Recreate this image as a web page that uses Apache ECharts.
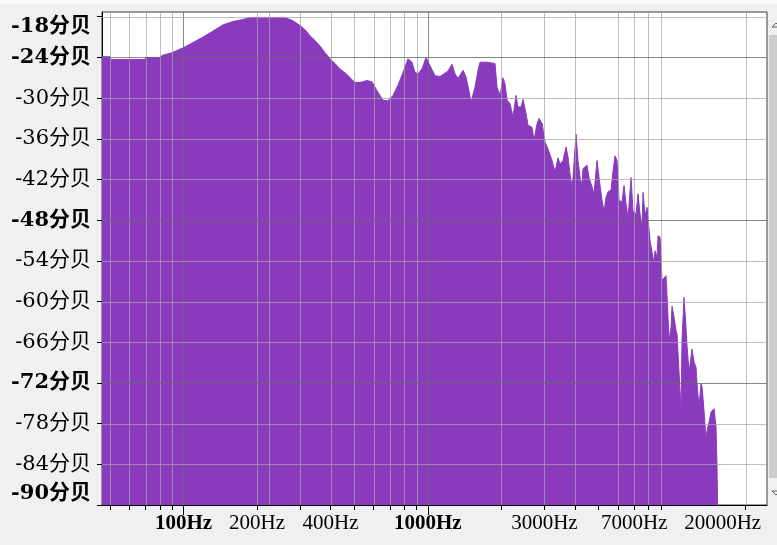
<!DOCTYPE html>
<html>
<head>
<meta charset="utf-8">
<script src="https://cdn.jsdelivr.net/npm/echarts@6/dist/echarts.min.js"></script>
<style>
html,body{margin:0;padding:0;background:#f0f0f0;}
#c{width:777px;height:545px;}
</style>
</head>
<body>
<div id="c"></div>
<script>
// Frequency (Hz) of each spectrum point
const freqHz = [
  46.4, 50.0, 50.5, 69.6, 70.2, 80.1, 81.7, 89.7, 95.0, 99.5,
  109.4, 120.2, 132.1, 145.1, 159.4, 175.2, 187.1, 199.9, 260.3, 267.7,
  280.7, 299.9, 314.3, 329.4, 345.4, 362.0, 379.5, 397.8, 417.0, 437.1,
  467.0, 480.3, 503.5, 527.9, 563.7, 591.0, 619.6, 655.6, 687.2, 720.3,
  755.1, 791.6, 829.7, 861.5, 886.3, 911.7, 946.9, 983.1, 1011, 1070,
  1122, 1210, 1256, 1292, 1329, 1393, 1434, 1474, 1502, 1560,
  1605, 1636, 1747, 1884, 1920, 1975, 2031, 2070, 2110, 2170,
  2232, 2296, 2340, 2407, 2453, 2524, 2572, 2670, 2721, 2799,
  2852, 2934, 3019, 3105, 3224, 3317, 3412, 3476, 3576, 3679,
  3749, 3820, 3893, 3930, 4042, 4119, 4198, 4278, 4318, 4484,
  4569, 4700, 4789, 4927, 5021, 5165, 5263, 5363, 5465, 5622,
  5729, 5839, 5949, 6062, 6236, 6355, 6476, 6599, 6789, 6917,
  7115, 7251, 7389, 7530, 7601, 7746, 7894, 8121, 8275, 8432,
  8511, 8673, 8756, 8923, 9093, 9264, 9441, 9530, 9712, 9897,
  9991, 10181, 10375, 10474, 10673, 10874, 10977, 11186, 11399, 11508,
  11727, 11950, 12063, 12292, 12527, 12644, 12885, 13130, 13255, 13508,
  13766, 13897, 14158, 14428, 14566, 14843, 15124, 15268, 15413, 15420
];
// Level (dB) at each frequency
const levelDb = [
  -23.9, -23.9, -24.3, -24.3, -24.0, -24.0, -23.7, -23.3, -22.9, -22.6,
  -21.8, -21.0, -20.1, -19.2, -18.7, -18.4, -18.1, -18.1, -18.1, -18.3,
  -18.6, -19.3, -19.9, -20.8, -21.5, -22.3, -23.3, -24.2, -24.9, -25.7,
  -26.5, -27.0, -27.7, -27.7, -27.4, -27.6, -28.9, -30.3, -30.4, -29.6,
  -28.1, -26.2, -24.2, -24.7, -26.2, -26.4, -25.7, -24.0, -24.9, -26.7,
  -26.8, -26.0, -25.0, -26.4, -27.1, -25.9, -26.9, -28.9, -30.6, -28.4,
  -25.9, -24.7, -24.7, -24.9, -28.4, -29.6, -27.0, -27.9, -30.3, -30.8,
  -32.8, -29.6, -31.3, -31.3, -30.2, -32.3, -34.0, -34.3, -36.2, -33.8,
  -33.0, -33.7, -36.5, -37.5, -39.2, -40.9, -38.8, -39.7, -39.2, -37.2,
  -38.7, -41.2, -43.1, -41.7, -35.3, -39.2, -41.7, -42.9, -40.4, -39.9,
  -41.7, -43.1, -44.1, -39.2, -41.7, -45.1, -46.7, -44.7, -43.8, -43.6,
  -40.7, -38.5, -39.2, -45.1, -45.3, -42.9, -45.6, -47.6, -41.7, -46.6,
  -47.1, -44.1, -47.1, -49.0, -43.9, -47.3, -46.1, -51.0, -51.0, -54.4,
  -52.5, -53.5, -50.3, -50.5, -56.9, -57.1, -56.2, -59.1, -65.7, -63.8,
  -60.7, -62.3, -64.3, -64.8, -65.0, -76.1, -65.7, -59.4, -63.8, -66.5,
  -70.4, -70.4, -67.0, -68.9, -69.7, -72.1, -75.6, -72.1, -72.6, -76.1,
  -80.5, -79.0, -77.8, -76.3, -76.1, -75.8, -78.5, -84.4, -84.4, -95
];

const yTickValues = [-18, -24, -30, -36, -42, -48, -54, -60, -66, -72, -78, -84, -90];
const yBoldLabels = [-18, -24, -48, -72, -90];
const yGridLight = [-18, -30, -36, -42, -54, -60, -66, -78, -84];
const yGridDark = [-24, -48, -72];

const xTickValues = [50, 60, 70, 80, 90, 100, 200, 300, 400, 500, 600, 700, 800, 900, 1000,
  2000, 3000, 4000, 5000, 6000, 7000, 8000, 9000, 20000];
const xLabelValues = [100, 200, 400, 1000, 3000, 7000, 20000];
const xBoldLabels = [100, 1000];
const xGridLight = [50, 60, 70, 80, 90, 200, 224, 300, 400, 500, 600, 700, 800, 900,
  2000, 3000, 4000, 6000, 7000, 8000, 9000, 20000];
const xGridDark = [100, 1000];

const XFONT = '"Liberation Serif", "Noto Sans CJK SC", serif';
const YFONT = '"DejaVu Serif", "Noto Sans CJK SC", serif';
const PURPLE = '#8a3bbd';
const LIGHT = 'rgba(165,165,165,0.72)';
const DARK = 'rgba(105,105,105,0.8)';
const X_MIN = 46.4, X_MAX = 24450, Y_MIN = -90, Y_MAX = -17.3;

const chart = echarts.init(document.getElementById('c'), null, {renderer: 'canvas'});

const vData = xGridLight.map(v => [v, Y_MIN, 0]).concat(xGridDark.map(v => [v, Y_MIN, 1]));
const hData = yGridLight.map(v => [X_MIN, v, 0]).concat(yGridDark.map(v => [X_MIN, v, 1]));

function vLine(params, api) {
  const p = api.coord([api.value(0), Y_MIN]);
  const cs = params.coordSys;
  const x = Math.round(p[0]) + 0.5;
  const dark = api.value(2) === 1;
  const children = [{
    type: 'line',
    shape: {x1: x, y1: cs.y, x2: x, y2: cs.y + cs.height},
    style: {stroke: dark ? DARK : LIGHT, lineWidth: 1}
  }];
  if (dark) {
    children.push({
      type: 'line',
      shape: {x1: x, y1: cs.y + cs.height, x2: x, y2: cs.y + cs.height + 10},
      style: {stroke: '#000', lineWidth: 1}
    });
  }
  return {type: 'group', children: children};
}
function hLine(params, api) {
  const p = api.coord([X_MIN, api.value(1)]);
  const cs = params.coordSys;
  const y = Math.round(p[1]) + 0.5;
  return {
    type: 'line',
    shape: {x1: cs.x, y1: y, x2: cs.x + cs.width, y2: y},
    style: {stroke: api.value(2) ? DARK : LIGHT, lineWidth: 1}
  };
}

chart.setOption({
  animation: false,
  backgroundColor: '#f0f0f0',
  grid: {
    left: 102, top: 12, width: 665, height: 493,
    show: true, backgroundColor: '#ffffff', borderColor: '#3a3a3a', borderWidth: 1
  },
  xAxis: {
    type: 'log', logBase: 10, min: X_MIN, max: X_MAX,
    axisLine: {show: true, lineStyle: {color: '#000', width: 1}},
    axisTick: {show: true, length: 5, lineStyle: {color: '#000'}, customValues: xTickValues},
    splitLine: {show: false},
    minorTick: {show: false},
    axisLabel: {
      customValues: xLabelValues,
      margin: 8,
      fontFamily: XFONT, fontSize: 21, color: '#000',
      formatter: function (v) {
        const n = Math.round(v);
        const s = n + 'Hz';
        if (xBoldLabels.indexOf(n) >= 0) return '{b|' + s + '}';
        if (n === 20000) return '{r|' + s + '}';
        return s;
      },
      rich: {
        b: {fontFamily: XFONT, fontSize: 21, fontWeight: 'bold', color: '#000'},
        r: {fontFamily: XFONT, fontSize: 21, color: '#000', padding: [0, 46, 0, 0]}
      }
    }
  },
  yAxis: {
    type: 'value', min: Y_MIN, max: Y_MAX,
    axisLine: {show: true, lineStyle: {color: '#000', width: 1}},
    axisTick: {show: true, length: 5, lineStyle: {color: '#000'}, customValues: yTickValues},
    splitLine: {show: false},
    axisLabel: {
      customValues: yTickValues,
      margin: 11,
      fontFamily: YFONT, fontSize: 21, color: '#000',
      formatter: function (v) {
        const n = Math.round(v);
        const s = n + '分贝';
        if (n === -18) return '{t|' + s + '}';
        if (n === -90) return '{u|' + s + '}';
        if (yBoldLabels.indexOf(n) >= 0) return '{b|' + s + '}';
        return s;
      },
      rich: {
        b: {fontFamily: YFONT, fontSize: 21, fontWeight: 'bold', color: '#000'},
        t: {fontFamily: YFONT, fontSize: 21, fontWeight: 'bold', color: '#000', padding: [20, 0, 0, 0]},
        u: {fontFamily: YFONT, fontSize: 21, fontWeight: 'bold', color: '#000', padding: [0, 0, 22, 0]}
      }
    }
  },
  series: [
    {
      type: 'line',
      z: 2,
      data: freqHz.map((f, i) => [f, levelDb[i]]),
      showSymbol: false,
      symbol: 'none',
      lineStyle: {width: 1, color: PURPLE},
      areaStyle: {color: PURPLE, opacity: 1, origin: 'start'},
      clip: true,
      silent: true
    },
    {
      type: 'custom',
      z: 5,
      silent: true,
      clip: false,
      data: vData,
      renderItem: vLine
    },
    {
      type: 'custom',
      z: 5,
      silent: true,
      clip: false,
      data: hData,
      renderItem: hLine
    }
  ],
  graphic: [
    {type: 'rect', shape: {x: 0, y: 0, width: 777, height: 4}, style: {fill: '#fbfbfb'}, z: 10},
    {type: 'rect', shape: {x: 769, y: 35, width: 8, height: 443}, style: {fill: '#cdcdcd'}, z: 10},
    {type: 'polygon', shape: {points: [[772, 27], [776, 23], [780, 27]]}, style: {fill: 'none', stroke: '#606060', lineWidth: 1}, z: 10},
    {type: 'polygon', shape: {points: [[772, 491], [776, 495], [780, 491]]}, style: {fill: 'none', stroke: '#606060', lineWidth: 1}, z: 10}
  ]
});
</script>
</body>
</html>
